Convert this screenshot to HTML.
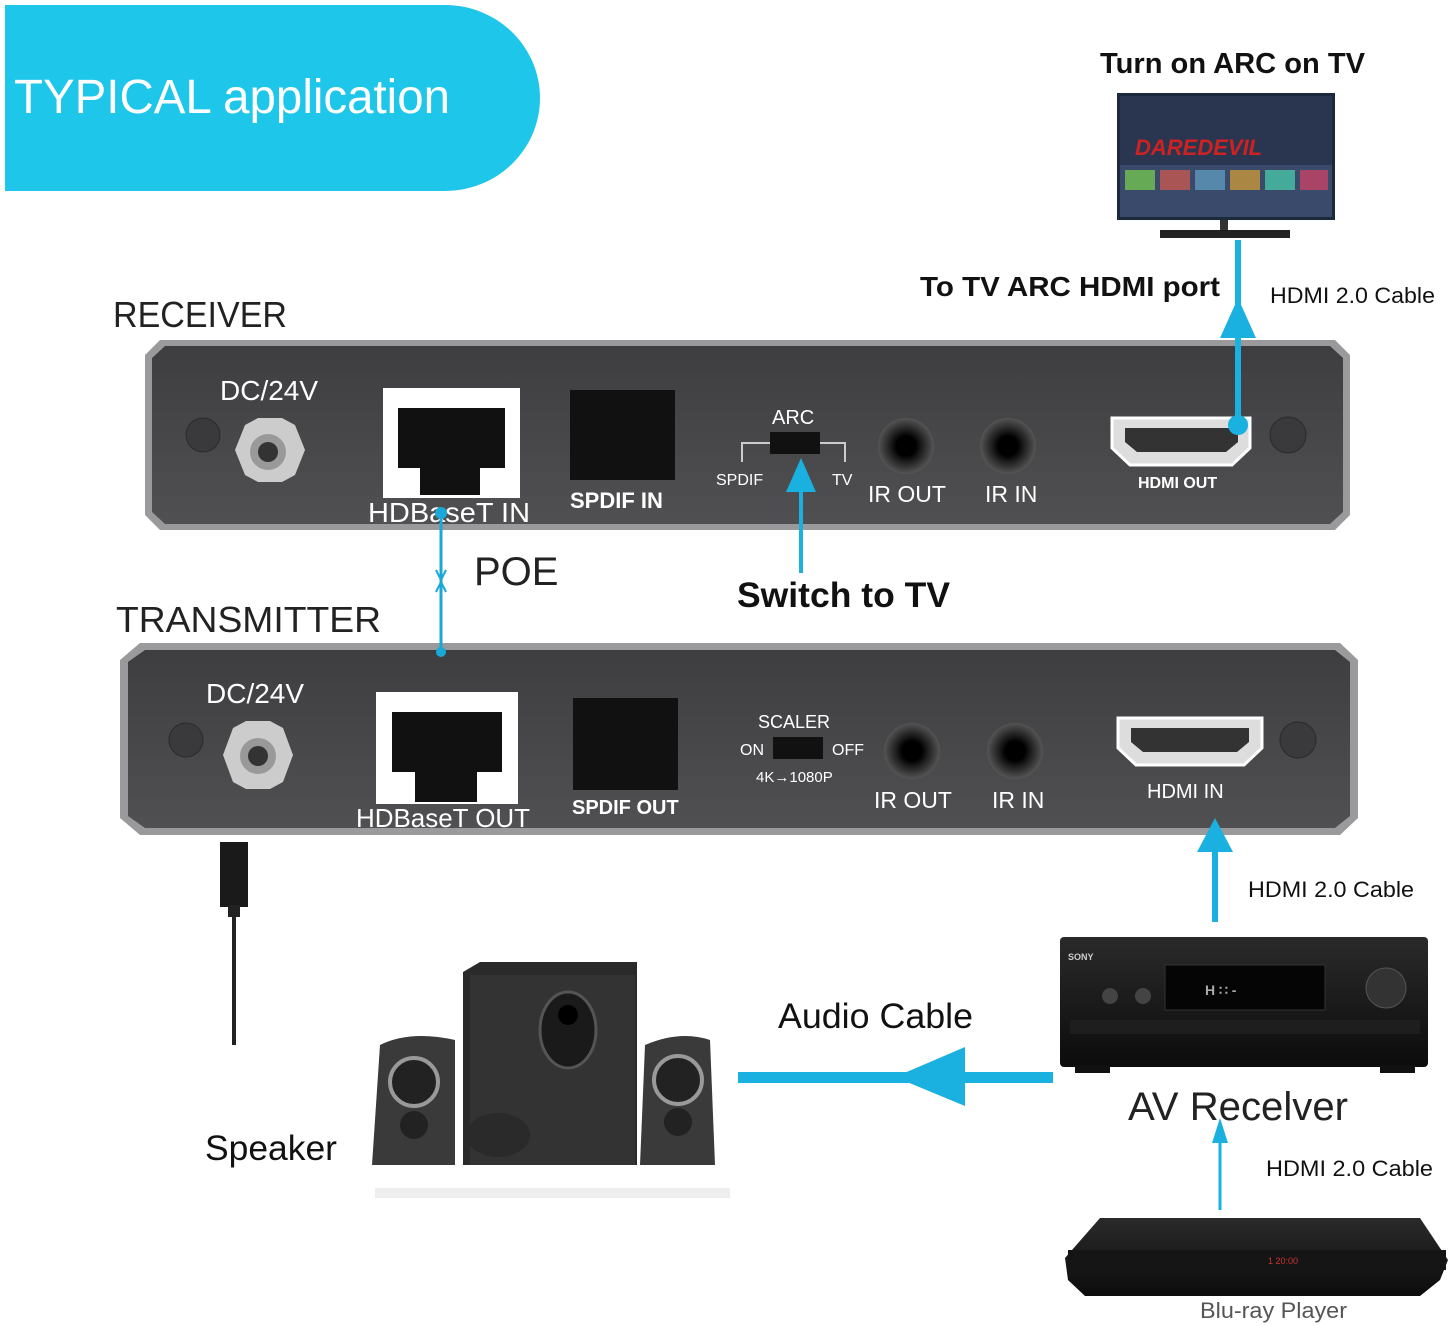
<!DOCTYPE html>
<html><head><meta charset="utf-8"><style>
html,body{margin:0;padding:0;background:#fff;width:1452px;height:1326px;overflow:hidden}
svg{display:block}
text{font-family:"Liberation Sans",sans-serif}
</style></head><body>
<svg width="1452" height="1326" viewBox="0 0 1452 1326" xmlns="http://www.w3.org/2000/svg">
<defs>
<linearGradient id="pan" x1="0" y1="0" x2="0" y2="1"><stop offset="0" stop-color="#3e3e40"/><stop offset="1" stop-color="#505052"/></linearGradient>
<linearGradient id="blk" x1="0" y1="0" x2="0" y2="1"><stop offset="0" stop-color="#2a2a2a"/><stop offset="1" stop-color="#0c0c0c"/></linearGradient>
<radialGradient id="jack"><stop offset="0.35" stop-color="#000"/><stop offset="0.6" stop-color="#222"/><stop offset="1" stop-color="#555"/></radialGradient>
</defs>
<path d="M5 5 H445 A95 93 0 0 1 445 191 H5 Z" fill="#1ec6ea"/>
<text x="14" y="113" font-size="48" fill="#fff" textLength="436" lengthAdjust="spacingAndGlyphs">TYPICAL application</text>

<text x="1100" y="73" font-size="29" font-weight="bold" fill="#111" textLength="265" lengthAdjust="spacingAndGlyphs">Turn on ARC on TV</text>
<rect x="1117" y="93" width="218" height="127" fill="#1a2a3a"/>
<rect x="1120" y="96" width="212" height="121" fill="#2a3550"/>
<rect x="1120" y="165" width="212" height="52" fill="#3a4a6a"/>
<rect x="1125" y="170" width="30" height="20" fill="#6a5"/><rect x="1160" y="170" width="30" height="20" fill="#a55"/><rect x="1195" y="170" width="30" height="20" fill="#58a"/><rect x="1230" y="170" width="30" height="20" fill="#a84"/><rect x="1265" y="170" width="30" height="20" fill="#4a9"/><rect x="1300" y="170" width="28" height="20" fill="#a46"/>
<text x="1135" y="155" font-size="22" font-weight="bold" fill="#c22" font-style="italic">DAREDEVIL</text>
<rect x="1220" y="220" width="8" height="12" fill="#333"/>
<rect x="1160" y="230" width="130" height="8" fill="#222"/>

<text x="920" y="296" font-size="28" font-weight="bold" fill="#111" textLength="300" lengthAdjust="spacingAndGlyphs">To TV ARC HDMI port</text>
<text x="1270" y="303" font-size="22" fill="#111" textLength="165" lengthAdjust="spacingAndGlyphs">HDMI 2.0 Cable</text>

<text x="113" y="327" font-size="36" fill="#222" textLength="174" lengthAdjust="spacingAndGlyphs">RECEIVER</text>
<path d="M160 340 H1335 L1350 355 V515 L1335 530 H160 L145 515 V355 Z" fill="#9a9a9c"/>
<path d="M165 346 H1330 L1343 358 V512 L1330 524 H165 L152 512 V358 Z" fill="url(#pan)"/>
<text x="220" y="400" font-size="28" fill="#fff">DC/24V</text>
<circle cx="203" cy="435" r="17" fill="#3a3a3c" stroke="#2a2a2a"/>
<polygon points="245,425 258,418 282,418 295,425 305,450 295,475 282,482 258,482 245,475 235,450" fill="#ccc"/>
<circle cx="268" cy="452" r="18" fill="#999"/><circle cx="268" cy="452" r="10" fill="#333"/>
<rect x="383" y="388" width="137" height="110" fill="#fff"/>
<rect x="398" y="408" width="107" height="60" fill="#111"/>
<rect x="420" y="465" width="60" height="30" fill="#111"/>
<text x="368" y="522" font-size="28" fill="#fff" textLength="162" lengthAdjust="spacingAndGlyphs">HDBaseT IN</text>
<rect x="570" y="390" width="105" height="90" fill="#111"/>
<text x="570" y="508" font-size="22" font-weight="bold" fill="#fff">SPDIF IN</text>
<text x="772" y="424" font-size="20" fill="#fff">ARC</text>
<path d="M742 462 V443 H770 M820 443 H845 V462" stroke="#ccc" fill="none" stroke-width="2"/>
<rect x="770" y="432" width="50" height="22" fill="#111"/>
<text x="716" y="485" font-size="16" fill="#fff">SPDIF</text>
<text x="832" y="485" font-size="16" fill="#fff">TV</text>
<circle cx="906" cy="446" r="28" fill="url(#jack)"/>
<circle cx="1008" cy="446" r="28" fill="url(#jack)"/>
<text x="868" y="502" font-size="23" fill="#fff">IR OUT</text>
<text x="985" y="502" font-size="23" fill="#fff">IR IN</text>
<path d="M1112 418 H1250 V448 L1232 465 H1130 L1112 448 Z" fill="#ddd" stroke="#fff" stroke-width="3"/>
<path d="M1125 428 H1238 V442 L1226 452 H1137 L1125 442 Z" fill="#333"/>
<text x="1138" y="488" font-size="16" font-weight="bold" fill="#fff">HDMI OUT</text>
<circle cx="1288" cy="435" r="18" fill="#3a3a3c" stroke="#2a2a2a"/>

<text x="116" y="632" font-size="36" fill="#222" textLength="265" lengthAdjust="spacingAndGlyphs">TRANSMITTER</text>
<path d="M140 643 H1340 L1358 660 V818 L1340 835 H140 L120 818 V660 Z" fill="#9a9a9c"/>
<path d="M145 650 H1335 L1350 662 V816 L1335 828 H145 L128 816 V662 Z" fill="url(#pan)"/>
<text x="206" y="703" font-size="28" fill="#fff">DC/24V</text>
<circle cx="186" cy="740" r="17" fill="#3a3a3c" stroke="#2a2a2a"/>
<polygon points="233,728 246,721 270,721 283,728 293,755 283,782 270,789 246,789 233,782 223,755" fill="#ccc"/>
<circle cx="258" cy="756" r="18" fill="#999"/><circle cx="258" cy="756" r="10" fill="#333"/>
<rect x="376" y="692" width="142" height="112" fill="#fff"/>
<rect x="392" y="712" width="110" height="60" fill="#111"/>
<rect x="415" y="770" width="62" height="32" fill="#111"/>
<text x="356" y="827" font-size="26" fill="#fff" textLength="174" lengthAdjust="spacingAndGlyphs">HDBaseT OUT</text>
<rect x="573" y="698" width="105" height="92" fill="#111"/>
<text x="572" y="814" font-size="20" font-weight="bold" fill="#fff">SPDIF OUT</text>
<text x="758" y="728" font-size="18" fill="#fff">SCALER</text>
<text x="740" y="755" font-size="16" fill="#fff">ON</text>
<rect x="773" y="737" width="50" height="22" fill="#111"/>
<text x="832" y="755" font-size="16" fill="#fff">OFF</text>
<text x="756" y="782" font-size="15" fill="#fff">4K→1080P</text>
<circle cx="912" cy="751" r="28" fill="url(#jack)"/>
<circle cx="1015" cy="751" r="28" fill="url(#jack)"/>
<text x="874" y="808" font-size="23" fill="#fff">IR OUT</text>
<text x="992" y="808" font-size="23" fill="#fff">IR IN</text>
<path d="M1118 718 H1262 V748 L1244 765 H1136 L1118 748 Z" fill="#ddd" stroke="#fff" stroke-width="3"/>
<path d="M1131 728 H1249 V742 L1237 752 H1143 L1131 742 Z" fill="#333"/>
<text x="1147" y="798" font-size="20" fill="#fff">HDMI IN</text>
<circle cx="1298" cy="740" r="18" fill="#3a3a3c" stroke="#2a2a2a"/>

<line x1="441" y1="512" x2="441" y2="652" stroke="#1aa8d8" stroke-width="3"/>
<circle cx="441" cy="513" r="6" fill="#1aa8d8"/><circle cx="441" cy="652" r="5" fill="#1aa8d8"/>
<path d="M436 570 L441 580 L446 570 M436 592 L441 582 L446 592" stroke="#1aa8d8" fill="none" stroke-width="2"/>
<text x="474" y="585" font-size="40" fill="#222">POE</text>

<line x1="801" y1="490" x2="801" y2="573" stroke="#1ab0e0" stroke-width="4"/>
<polygon points="801,458 786,492 816,492" fill="#1ab0e0"/>
<text x="737" y="607" font-size="35" font-weight="bold" fill="#111" textLength="213" lengthAdjust="spacingAndGlyphs">Switch to TV</text>

<line x1="1238" y1="240" x2="1238" y2="425" stroke="#1ab0e0" stroke-width="6"/>
<polygon points="1238,298 1220,338 1256,338" fill="#1ab0e0"/>
<circle cx="1238" cy="425" r="10" fill="#1ab0e0"/>

<line x1="1215" y1="850" x2="1215" y2="922" stroke="#1ab0e0" stroke-width="6"/>
<polygon points="1215,818 1197,852 1233,852" fill="#1ab0e0"/>
<text x="1248" y="897" font-size="22" fill="#111" textLength="166" lengthAdjust="spacingAndGlyphs">HDMI 2.0 Cable</text>

<rect x="220" y="842" width="28" height="65" fill="#1a1a1a"/>
<rect x="228" y="905" width="12" height="12" fill="#222"/>
<line x1="234" y1="915" x2="234" y2="1045" stroke="#222" stroke-width="4"/>

<rect x="1060" y="937" width="368" height="130" rx="4" fill="url(#blk)"/>
<rect x="1165" y="965" width="160" height="45" fill="#050505" stroke="#333"/>
<text x="1205" y="995" font-size="14" font-weight="bold" fill="#aaa">H  ∷  -</text>
<circle cx="1386" cy="988" r="20" fill="#333" stroke="#555"/>
<circle cx="1110" cy="996" r="8" fill="#444"/><circle cx="1143" cy="996" r="8" fill="#444"/>
<rect x="1070" y="1020" width="350" height="14" fill="#1e1e1e"/>
<text x="1068" y="960" font-size="9" font-weight="bold" fill="#ccc">SONY</text>
<rect x="1075" y="1065" width="35" height="8" fill="#111"/><rect x="1380" y="1065" width="35" height="8" fill="#111"/>

<text x="778" y="1028" font-size="35" fill="#111" textLength="195" lengthAdjust="spacingAndGlyphs">Audio Cable</text>
<rect x="738" y="1072" width="315" height="11" fill="#1ab0e0"/>
<polygon points="895,1077 965,1047 965,1106" fill="#1ab0e0"/>

<text x="1128" y="1120" font-size="40" fill="#222" textLength="220" lengthAdjust="spacingAndGlyphs">AV Recelver</text>
<line x1="1220" y1="1140" x2="1220" y2="1210" stroke="#1ab0e0" stroke-width="3"/>
<polygon points="1220,1118 1212,1143 1228,1143" fill="#1ab0e0"/>
<text x="1266" y="1176" font-size="22" fill="#111" textLength="167" lengthAdjust="spacingAndGlyphs">HDMI 2.0 Cable</text>

<path d="M1100 1218 H1420 L1448 1260 L1440 1280 L1420 1296 H1085 L1068 1280 L1065 1258 Z" fill="url(#blk)"/>
<rect x="1068" y="1250" width="378" height="20" fill="#151515"/>
<text x="1268" y="1264" font-size="9" fill="#c33">1 20:00</text>
<text x="1200" y="1318" font-size="22" fill="#555" textLength="147" lengthAdjust="spacingAndGlyphs">Blu-ray Player</text>

<text x="205" y="1160" font-size="35" fill="#111" textLength="132" lengthAdjust="spacingAndGlyphs">Speaker</text>
<rect x="375" y="1188" width="355" height="10" fill="#eee"/>
<path d="M463 972 L480 962 H637 V1165 H463 Z" fill="#2a2a2a"/>
<rect x="470" y="975" width="165" height="190" fill="#333"/>
<ellipse cx="568" cy="1030" rx="28" ry="38" fill="#1a1a1a" stroke="#555" stroke-width="3"/>
<circle cx="568" cy="1015" r="10" fill="#000"/>
<path d="M380 1045 Q410 1030 455 1040 V1165 H372 Z" fill="#3a3a3a"/>
<circle cx="414" cy="1082" r="24" fill="#222" stroke="#999" stroke-width="4"/>
<circle cx="414" cy="1125" r="14" fill="#222"/>
<path d="M645 1045 Q680 1030 710 1040 L715 1165 H640 Z" fill="#3a3a3a"/>
<circle cx="678" cy="1080" r="24" fill="#222" stroke="#999" stroke-width="4"/>
<circle cx="678" cy="1122" r="14" fill="#222"/>
<ellipse cx="498" cy="1135" rx="32" ry="22" fill="#2a2a2a"/>
</svg>
</body></html>
